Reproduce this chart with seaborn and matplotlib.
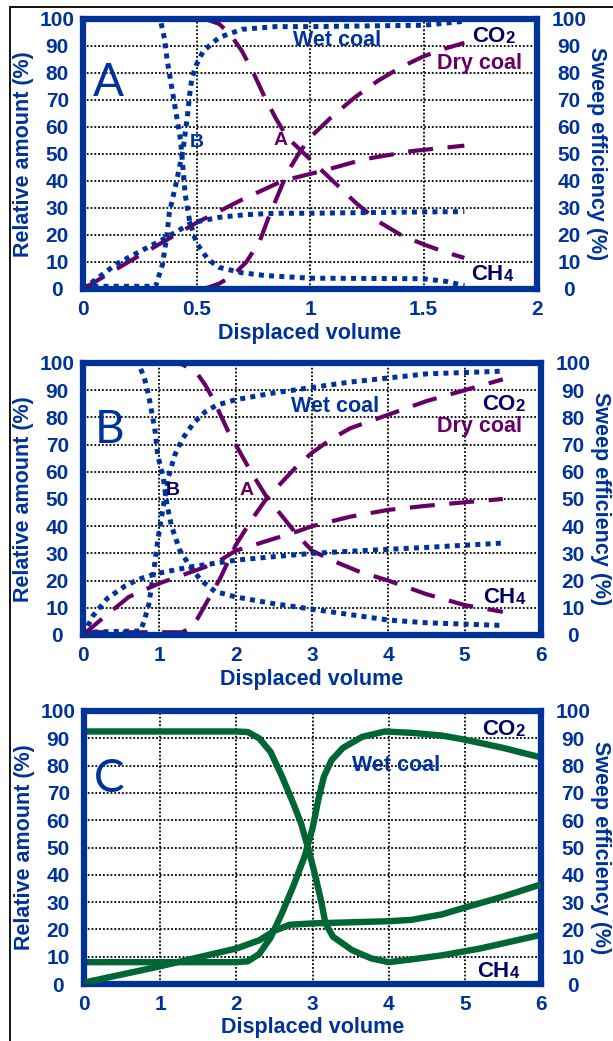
import numpy as np
import pandas as pd
import seaborn as sns
import matplotlib.pyplot as plt
from matplotlib.lines import Line2D

# ---------------- Panel A (displaced volume 0-2) ----------------
a_wet_co2_x = [0, 0.32, 0.35, 0.37, 0.38, 0.41, 0.44, 0.46, 0.47, 0.48, 0.50, 0.53, 0.60, 0.70, 0.85, 1.0, 1.5, 1.68]
a_wet_co2_y = [1, 1, 9, 20, 28, 39, 51, 64, 72, 78, 83, 88, 93, 96, 97, 97, 97.5, 99]
a_wet_ch4_x = [0, 0.34, 0.36, 0.37, 0.39, 0.41, 0.43, 0.44, 0.45, 0.47, 0.50, 0.55, 0.60, 0.70, 0.80, 1.0, 1.5, 1.6, 1.68]
a_wet_ch4_y = [100, 100, 92, 85, 75, 65, 55, 45, 35, 25, 17, 11, 8, 6, 5, 4, 3.8, 2.8, 1.2]
a_wet_sweep_x = [0, 0.15, 0.36, 0.48, 0.60, 0.72, 0.85, 1.0, 1.5, 1.68]
a_wet_sweep_y = [0, 9.4, 18.7, 24.5, 26.5, 27.5, 28, 28, 28.5, 28.6]
a_dry_co2_x = [0, 0.50, 0.55, 0.60, 0.66, 0.72, 0.78, 0.82, 0.86, 0.90, 0.95, 1.0, 1.1, 1.2, 1.3, 1.4, 1.5, 1.6, 1.68]
a_dry_co2_y = [0, 0, 0.5, 2, 5, 10, 18, 27, 35, 43, 50, 56, 64, 71, 77, 82, 86, 89, 91]
a_dry_ch4_x = [0, 0.50, 0.55, 0.60, 0.65, 0.70, 0.75, 0.80, 0.85, 0.90, 0.95, 1.0, 1.1, 1.2, 1.3, 1.4, 1.5, 1.6, 1.68]
a_dry_ch4_y = [100, 100, 99.5, 98, 94, 88, 80, 71, 63, 56, 52, 48, 40, 32, 25, 20, 16.5, 13.5, 11.5]
a_dry_sweep_x = [0, 0.2, 0.5, 0.7, 0.88, 1.07, 1.24, 1.45, 1.68]
a_dry_sweep_y = [0, 10, 24.5, 33, 40, 44, 48, 51, 53]

# ---------------- Panel B (displaced volume 0-6) ----------------
b_wet_co2_x = [0, 0.75, 0.80, 0.86, 0.92, 0.98, 1.05, 1.12, 1.2, 1.3, 1.45, 1.6, 1.75, 2.0, 2.5, 3.0, 3.5, 4.0, 4.5, 5.0, 5.5]
b_wet_co2_y = [1, 1.5, 5, 11, 22, 35, 47, 58, 66, 72, 78, 82, 84.5, 86.5, 89, 91, 93, 94.5, 96, 96.5, 97]
b_wet_ch4_x = [0, 0.72, 0.80, 0.86, 0.94, 0.98, 1.05, 1.10, 1.16, 1.27, 1.42, 1.55, 1.73, 2.0, 2.5, 3.0, 3.5, 4.0, 4.5, 5.0, 5.5]
b_wet_ch4_y = [100, 100, 95, 88, 76, 66, 58, 48, 40, 31, 24.5, 20, 16, 14, 11.5, 9.5, 7.5, 5.5, 4.5, 4, 3.5]
b_wet_sweep_x = [0, 0.13, 0.32, 0.55, 0.73, 0.95, 1.4, 2.0, 2.5, 3.0, 3.5, 4.0, 4.5, 5.0, 5.5]
b_wet_sweep_y = [0, 7, 13.5, 18, 20.5, 22.5, 25, 27.5, 28.8, 30, 30.8, 31.5, 32.2, 33, 33.8]
b_dry_co2_x = [0, 1.3, 1.4, 1.5, 1.6, 1.7, 1.8, 1.9, 2.0, 2.2, 2.4, 2.6, 2.8, 3.0, 3.25, 3.5, 4.0, 4.5, 5.0, 5.5]
b_dry_co2_y = [1, 1, 2.5, 6, 11, 16, 21, 27, 33, 42, 50, 56, 62, 67, 72, 76, 81, 86, 90, 94]
b_dry_ch4_x = [0, 1.2, 1.3, 1.4, 1.5, 1.6, 1.7, 1.8, 1.9, 2.0, 2.2, 2.4, 2.6, 2.8, 3.0, 3.3, 3.6, 4.0, 4.5, 5.0, 5.5]
b_dry_ch4_y = [100, 100, 99.5, 98, 96, 92, 87, 81, 75, 70, 60, 51, 44, 37, 31, 27, 23.5, 20, 15, 11, 8.5]
b_dry_sweep_x = [0, 0.25, 0.6, 1.0, 1.3, 1.6, 1.8, 2.0, 2.4, 2.8, 3.0, 3.5, 4.0, 4.5, 5.0, 5.5]
b_dry_sweep_y = [0, 6, 14, 19, 22, 25, 27.5, 31, 34.5, 38, 40, 43.5, 46, 47.5, 48.8, 50]

# ---------------- Panel C (displaced volume 0-6) ----------------
c_ch4_x = [0, 2.0, 2.15, 2.3, 2.45, 2.6, 2.75, 2.85, 2.95, 3.04, 3.12, 3.17, 3.27, 3.52, 3.77, 4.0, 4.3, 4.7, 5.2, 5.6, 6.0]
c_ch4_y = [92.5, 92.5, 92.3, 90, 85, 76, 66, 58.8, 49, 39.3, 29.5, 22.2, 17.3, 12.4, 9.4, 8, 9, 10.5, 13, 15.5, 18]
c_co2_x = [0, 2.0, 2.15, 2.3, 2.45, 2.6, 2.75, 2.9, 3.0, 3.08, 3.15, 3.25, 3.4, 3.65, 3.95, 4.3, 4.7, 5.0, 5.5, 6.0]
c_co2_y = [8, 8, 8.3, 11, 17, 26, 36, 47, 57, 68, 76, 82, 86.5, 90.5, 92.5, 92, 91, 89.5, 86.5, 83]
c_sweep_x = [0, 1.0, 2.0, 2.3, 2.5, 2.7, 3.0, 3.5, 4.0, 4.3, 4.7, 5.0, 5.5, 6.0]
c_sweep_y = [0.5, 6.5, 13, 16, 19.5, 21.7, 22.2, 22.6, 23, 23.5, 25.5, 28, 32, 36.5]

y_ticks = list(range(0, 101, 10))
a_xticks = [0, 0.5, 1, 1.5, 2]
a_xticklabels = ["0", "0.5", "1", "1.5", "2"]
bc_xticks = [0, 1, 2, 3, 4, 5, 6]
bc_xticklabels = ["0", "1", "2", "3", "4", "5", "6"]

BLUE = "#003399"
NAVY = "#000066"
PURPLE = "#660066"
GREEN = "#006633"

sns.set_style("white")
plt.rcParams["font.family"] = ["Liberation Sans", "DejaVu Sans"]

FS = 15       # tick labels
LFS = 15.5    # axis titles and curve labels

fig = plt.figure(figsize=(6.13, 10.41), dpi=100)

DOTTED = dict(color=BLUE, linewidth=3.6, linestyle=(0, (1, 1.05)), dash_capstyle="butt")
DASHED = dict(color=PURPLE, linewidth=3.0, linestyle=(0, (6, 3.5)), dash_capstyle="butt")
SOLID = dict(color=GREEN, linewidth=4.6, solid_joinstyle="round", solid_capstyle="butt")


def draw(ax, x, y, style):
    df = pd.DataFrame({"x": x, "y": y})
    sns.lineplot(data=df, x="x", y="y", ax=ax, estimator=None, sort=False,
                 legend=False, **style)


def setup(ax, xmax, xticks, xticklabels):
    ax.set_xlim(0, xmax)
    ax.set_ylim(0, 100)
    ax.set_xticks(xticks)
    ax.set_xticklabels(xticklabels)
    ax.set_yticks(y_ticks)
    ax.set_yticklabels([str(v) for v in y_ticks])
    for s in ax.spines.values():
        s.set_visible(True)
        s.set_color(BLUE)
        s.set_linewidth(4.5)
    ax.grid(True, color="black", linestyle=(0, (1, 1.1)), linewidth=1.3)
    ax.set_axisbelow(True)
    ax.tick_params(axis="x", direction="out", length=5, width=4, color=BLUE,
                   labelsize=FS, labelcolor=BLUE, pad=3)
    ax.tick_params(axis="y", left=False, length=0, labelsize=FS,
                   labelcolor=BLUE, pad=18.5)
    for lab in ax.get_xticklabels() + ax.get_yticklabels():
        lab.set_fontweight("bold")
    for lab in ax.get_yticklabels():
        lab.set_horizontalalignment("center")

    tw = ax.twinx()
    tw.set_ylim(0, 100)
    tw.set_yticks(y_ticks)
    tw.set_yticklabels([str(v) for v in y_ticks])
    for s in tw.spines.values():
        s.set_visible(False)
    tw.grid(False)
    tw.patch.set_visible(False)
    tw.tick_params(axis="y", right=False, length=0, labelsize=FS,
                   labelcolor=BLUE, pad=23)
    for lab in tw.get_yticklabels():
        lab.set_fontweight("bold")
        lab.set_horizontalalignment("center")
    return tw


def titles(ax, tw, xlab_y):
    for a in (ax, tw):
        a.set_xlabel("Displaced volume", fontsize=LFS, fontweight="bold", color=BLUE, va="center")
        a.xaxis.set_label_coords(0.5, xlab_y)
    tw.xaxis.label.set_visible(False)
    ax.set_ylabel("Relative amount (%)", fontsize=LFS, fontweight="bold", color=BLUE, va="center")
    ax.yaxis.set_label_coords(-0.131, 0.5)
    tw.set_ylabel("Sweep efficiency (%)", fontsize=LFS, fontweight="bold", color=BLUE,
                  rotation=270, va="center")
    tw.yaxis.set_label_coords(1.13, 0.5)


def species(ax, x, y, base, sub):
    t = ax.text(x, y, base, ha="right", va="baseline", fontsize=16,
                fontweight="bold", color=NAVY)
    ax.annotate(sub, xy=(1, 0.0), xycoords=t, xytext=(0.3, 0.8),
                textcoords="offset points", ha="left", va="bottom",
                fontsize=12, fontweight="bold", color=NAVY)


def annot(ax, x, y, s, color, size=LFS, weight="bold"):
    ax.text(x, y, s, ha="center", va="center", fontsize=size,
            fontweight=weight, color=color)


def panel_letter(ax, x, y, s):
    ax.text(x, y, s, ha="center", va="center", fontsize=33,
            fontfamily=["Lato", "Liberation Sans"], fontweight="normal", color=BLUE)


# ---- Panel A ----
axA = fig.add_axes([83 / 613, 1 - 289 / 1041, 454 / 613, 270.5 / 1041])
twA = setup(axA, 2, a_xticks, a_xticklabels)
draw(axA, a_dry_co2_x, a_dry_co2_y, DASHED)
draw(axA, a_dry_ch4_x, a_dry_ch4_y, DASHED)
draw(twA, a_dry_sweep_x, a_dry_sweep_y, DASHED)
draw(axA, a_wet_co2_x, a_wet_co2_y, DOTTED)
draw(axA, a_wet_ch4_x, a_wet_ch4_y, DOTTED)
draw(twA, a_wet_sweep_x, a_wet_sweep_y, DOTTED)
titles(axA, twA, -0.163)
annot(axA, 1.12, 92, "Wet coal", BLUE)
annot(axA, 1.745, 83.4, "Dry coal", PURPLE)
annot(axA, 0.50, 54, "B", BLUE, size=14)
annot(axA, 0.87, 55, "A", PURPLE, size=14)
species(axA, 1.86, 91.4, "CO", "2")
species(axA, 1.85, 3.3, "CH", "4")
panel_letter(axA, 0.11, 76, "A")

# ---- Panel B ----
axB = fig.add_axes([83 / 613, 1 - 635 / 1041, 458 / 613, 272 / 1041])
twB = setup(axB, 6, bc_xticks, bc_xticklabels)
draw(axB, b_dry_co2_x, b_dry_co2_y, DASHED)
draw(axB, b_dry_ch4_x, b_dry_ch4_y, DASHED)
draw(twB, b_dry_sweep_x, b_dry_sweep_y, DASHED)
draw(axB, b_wet_co2_x, b_wet_co2_y, DOTTED)
draw(axB, b_wet_ch4_x, b_wet_ch4_y, DOTTED)
draw(twB, b_wet_sweep_x, b_wet_sweep_y, DOTTED)
titles(axB, twB, -0.163)
annot(axB, 3.3, 84, "Wet coal", BLUE)
annot(axB, 5.19, 76.5, "Dry coal", PURPLE)
annot(axB, 1.17, 53, "B", NAVY, size=14)
annot(axB, 2.14, 53, "A", PURPLE, size=14)
species(axB, 5.66, 82.7, "CO", "2")
species(axB, 5.66, 11.8, "CH", "4")
panel_letter(axB, 0.35, 75.4, "B")

# ---- Panel C ----
axC = fig.add_axes([84 / 613, 1 - 984 / 1041, 457 / 613, 273 / 1041])
twC = setup(axC, 6, bc_xticks, bc_xticklabels)
draw(axC, c_ch4_x, c_ch4_y, SOLID)
draw(axC, c_co2_x, c_co2_y, SOLID)
draw(twC, c_sweep_x, c_sweep_y, SOLID)
titles(axC, twC, -0.161)
annot(axC, 4.1, 80, "Wet coal", BLUE)
species(axC, 5.66, 91.2, "CO", "2")
species(axC, 5.58, 2.6, "CH", "4")
panel_letter(axC, 0.33, 75, "C")

# thin black frame along the top and left edge of the figure
fig.add_artist(Line2D([10 / 613, 10 / 613], [0, 1 - 7 / 1041], color="black", linewidth=1.3))
fig.add_artist(Line2D([10 / 613, 1], [1 - 7 / 1041, 1 - 7 / 1041], color="black", linewidth=1.3))

fig.savefig("out.png", dpi=100)
